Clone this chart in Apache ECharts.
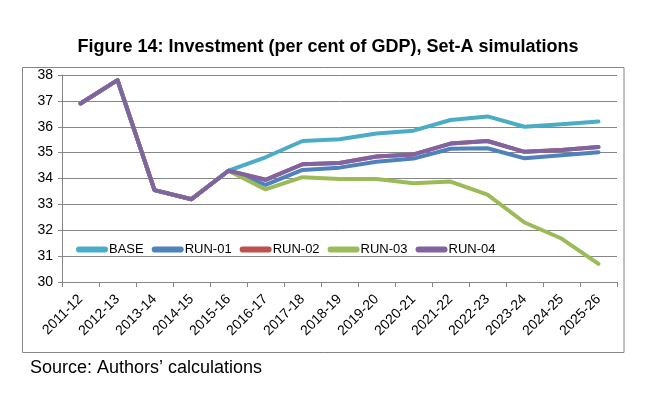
<!DOCTYPE html>
<html>
<head>
<meta charset="utf-8">
<script src="https://cdn.jsdelivr.net/npm/echarts@6/dist/echarts.min.js"></script>
<style>
html,body{margin:0;padding:0;background:#fff;}
#chart{width:660px;height:394px;}
</style>
</head>
<body>
<div id="chart"></div>
<script>
var categories = ['2011-12','2012-13','2013-14','2014-15','2015-16','2016-17','2017-18','2018-19','2019-20','2020-21','2021-22','2022-23','2023-24','2024-25','2025-26'];
var base  = [36.9, 37.8, 33.55, 33.2, 34.3, 34.82, 35.45, 35.52, 35.74, 35.85, 36.26, 36.4, 36.0, 36.1, 36.2];
var run01 = [36.9, 37.8, 33.55, 33.2, 34.3, 33.75, 34.33, 34.42, 34.65, 34.77, 35.15, 35.17, 34.78, 34.9, 35.01];
var run02 = [36.9, 37.8, 33.55, 33.2, 34.3, 33.95, 34.55, 34.6, 34.85, 34.93, 35.35, 35.45, 35.03, 35.1, 35.22];
var run03 = [36.9, 37.8, 33.55, 33.2, 34.3, 33.58, 34.05, 33.98, 33.98, 33.82, 33.88, 33.38, 32.3, 31.68, 30.7];
var run04 = [36.9, 37.8, 33.55, 33.2, 34.3, 33.95, 34.55, 34.6, 34.85, 34.93, 35.35, 35.45, 35.03, 35.1, 35.22];
var seriesNames = ['BASE','RUN-01','RUN-02','RUN-03','RUN-04'];
var seriesData = [base, run01, run02, run03, run04];
var colors = ['#4BACC6','#4F81BD','#C0504D','#9BBB59','#8064A2'];

var chart = echarts.init(document.getElementById('chart'), null, {renderer:'canvas'});
var font = 'Liberation Sans, Arial, sans-serif';
var capsule = 'path://M3,0 L29,0 A3,3 0 0 1 29,6 L3,6 A3,3 0 0 1 3,0 Z';
chart.setOption({
  animation: false,
  color: colors,
  title: {
    text: 'Figure 14: Investment (per cent of GDP), Set-A simulations',
    left: 323, textAlign: 'center', top: 33,
    textStyle: {fontFamily: font, fontSize: 18, fontWeight: 'bold', color: '#000'}
  },
  graphic: [
    {type:'rect', shape:{x:22.5, y:67.5, width:601.5, height:285}, style:{fill:null, stroke:'#868686', lineWidth:1}, z:-1},
    {type:'text', left: 30, top: 359, style:{text:'Source: Authors\u2019 calculations', font:'18px ' + font, fill:'#000'}}
  ],
  legend: {
    left: 71, top: 238,
    itemWidth: 32, itemHeight: 6, itemGap: 8,
    icon: capsule,
    textStyle: {fontFamily: font, fontSize: 13, color: '#000', padding: [0,0,0,-4]},
    data: seriesNames
  },
  grid: {left: 62, right: 43, top: 75, bottom: 112, containLabel: false},
  xAxis: {
    type: 'category', data: categories, boundaryGap: true,
    axisLine: {lineStyle: {color: '#868686'}},
    axisTick: {show: true, length: 5, lineStyle:{color:'#868686'}, alignWithLabel: false},
    axisLabel: {rotate: 45, margin: 15, fontFamily: font, fontSize: 14, color: '#000', interval: 0}
  },
  yAxis: {
    type: 'value', min: 30, max: 38, interval: 1,
    axisLine: {show: true, lineStyle: {color: '#868686'}},
    axisTick: {show: true, length: 4, lineStyle:{color:'#868686'}},
    axisLabel: {margin: 9, fontFamily: font, fontSize: 14, color: '#000'},
    splitLine: {lineStyle: {color: '#868686', width: 1}}
  },
  series: seriesNames.map(function(n, i){
    return {
      name: n, type: 'line', data: seriesData[i],
      symbol: 'none', smooth: false,
      lineStyle: {width: 4, color: colors[i], cap:'round', join:'round'},
      itemStyle: {color: colors[i]}
    };
  })
});
</script>
</body>
</html>
